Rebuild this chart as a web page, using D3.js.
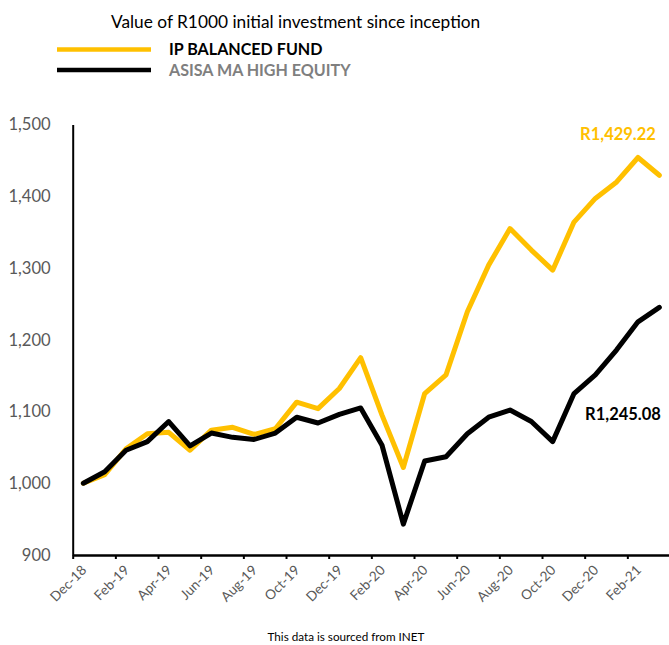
<!DOCTYPE html>
<html>
<head>
<meta charset="utf-8">
<script src="https://cdn.jsdelivr.net/npm/d3@7/dist/d3.min.js"></script>
<style>
  html, body { margin: 0; padding: 0; background: #fff; }
  svg { display: block; font-family: Lato, "Open Sans", sans-serif; }
</style>
</head>
<body>
<svg id="chart" width="669" height="645"></svg>
<script>
const months = ["Dec-18","Jan-19","Feb-19","Mar-19","Apr-19","May-19","Jun-19","Jul-19","Aug-19","Sep-19","Oct-19","Nov-19","Dec-19","Jan-20","Feb-20","Mar-20","Apr-20","May-20","Jun-20","Jul-20","Aug-20","Sep-20","Oct-20","Nov-20","Dec-20","Jan-21","Feb-21","Mar-21"];
const ipBalanced = [1000,1012,1048,1069,1071,1046,1074,1078,1068,1076,1113,1104,1132,1175,1095,1022,1125,1151,1239,1304,1355,1325,1297,1364,1397,1420,1454,1429.22];
const asisaHighEquity = [1000,1016,1046,1058,1086,1052,1070,1064,1061,1070,1092,1084,1096,1105,1053,943,1031,1037,1069,1092,1102,1086,1058,1125,1151,1186,1225,1245.08];
const yTicks = [900,1000,1100,1200,1300,1400,1500];
const xTickLabels = ["Dec-18","Feb-19","Apr-19","Jun-19","Aug-19","Oct-19","Dec-19","Feb-20","Apr-20","Jun-20","Aug-20","Oct-20","Dec-20","Feb-21"];
const seriesNames = ["IP BALANCED FUND","ASISA MA HIGH EQUITY"];
const endLabels = ["R1,429.22","R1,245.08"];
const title = "Value of R1000 initial investment since inception";
const footer = "This data is sourced from INET";

const YELLOW = "#FFC000", BLACK = "#000000", GRAY = "#595959";
const svg = d3.select("#chart");

const x = d3.scaleLinear().domain([0, months.length]).range([72.7, 670]);
const xc = i => x(i + 0.5);
const y = d3.scaleLinear().domain([900, 1500]).range([555, 124.5]);

// title
svg.append("text").attr("x", 111).attr("y", 28).attr("font-size", 17.3).attr("fill", "#000").text(title);

// legend
const legY = [49.5, 70];
const legColors = [YELLOW, BLACK];
const legTextColors = ["#000", "#7f7f7f"];
seriesNames.forEach((n, k) => {
  svg.append("line").attr("x1", 57).attr("x2", 151).attr("y1", legY[k]).attr("y2", legY[k])
    .attr("stroke", legColors[k]).attr("stroke-width", 4.5);
  svg.append("text").attr("x", 169).attr("y", legY[k] + 5.8).attr("font-size", 16.1).attr("font-weight", "bold")
    .attr("fill", legTextColors[k]).text(n);
});

// y axis
const yAxis = svg.append("g").attr("transform", "translate(72.7,0)")
  .call(d3.axisLeft(y).tickValues(yTicks).tickFormat(d3.format(",")).tickSize(0).tickPadding(22));
yAxis.select(".domain").attr("stroke", "#000").attr("stroke-width", 2);
yAxis.selectAll("text").attr("font-size", 16.6).attr("fill", GRAY).attr("font-family", "Lato, sans-serif");

// x axis
const xAxis = svg.append("g").attr("transform", "translate(0,555)")
  .call(d3.axisBottom(x).tickValues(d3.range(0, months.length, 2)).tickFormat("").tickSize(4).tickSizeOuter(0));
xAxis.select(".domain").attr("stroke", "#000").attr("stroke-width", 2.5);
xAxis.selectAll(".tick line").attr("stroke", "#000").attr("stroke-width", 2);

svg.append("g").selectAll("text").data(xTickLabels).join("text")
  .attr("transform", d => `translate(${xc(months.indexOf(d)) + 4},${571}) rotate(-45)`)
  .attr("text-anchor", "end").attr("font-size", 13.6).attr("fill", GRAY).text(d => d);

// lines
const line = d3.line().x((d, i) => xc(i)).y(d => y(d));
[[ipBalanced, YELLOW], [asisaHighEquity, BLACK]].forEach(([data, c]) => {
  svg.append("path").datum(data).attr("d", line).attr("fill", "none").attr("stroke", c)
    .attr("stroke-width", 5).attr("stroke-linejoin", "round").attr("stroke-linecap", "round");
});

// end labels
svg.append("text").attr("x", 618).attr("y", 140).attr("text-anchor", "middle").attr("font-size", 16.5)
  .attr("font-weight", "bold").attr("fill", YELLOW).text(endLabels[0]);
svg.append("text").attr("x", 623).attr("y", 420).attr("text-anchor", "middle").attr("font-size", 16.5)
  .attr("font-weight", "bold").attr("fill", BLACK).text(endLabels[1]);

// footer
svg.append("text").attr("x", 346).attr("y", 641).attr("text-anchor", "middle").attr("font-size", 11.7)
  .attr("fill", "#000").text(footer);
</script>
</body>
</html>
